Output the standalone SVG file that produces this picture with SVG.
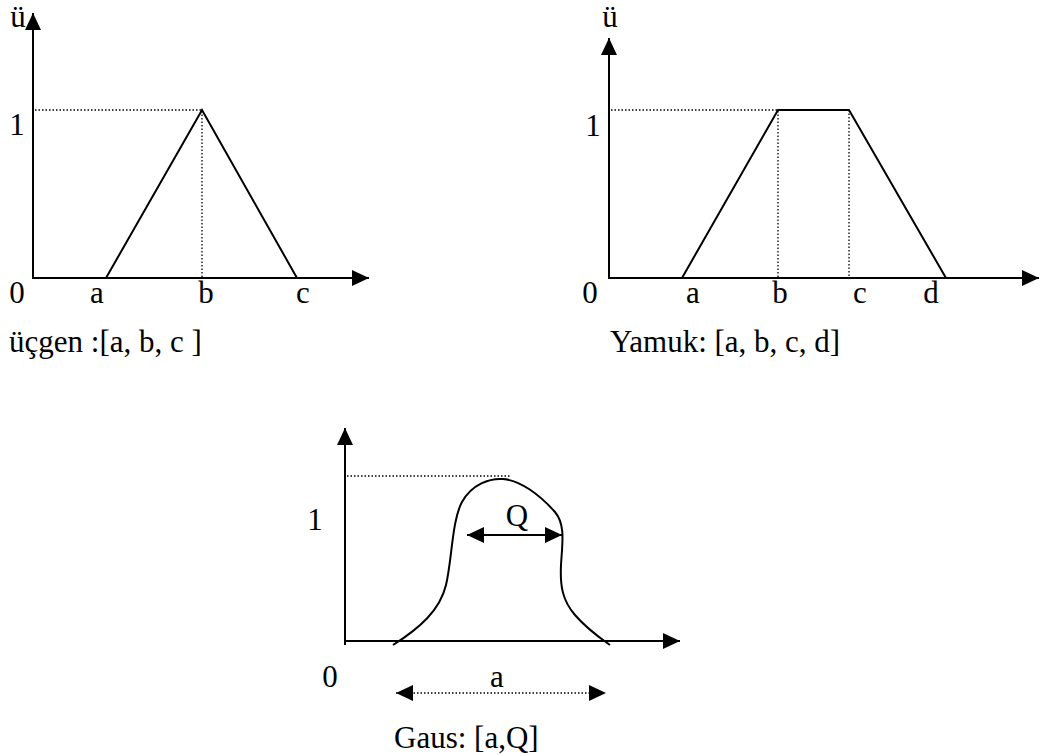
<svg xmlns="http://www.w3.org/2000/svg" width="1040" height="755" viewBox="0 0 1040 755">
<style>
text{font-family:"Liberation Serif","Times New Roman",serif;font-size:31px;fill:#000}
.m{text-anchor:middle}
.ax{stroke:#000;stroke-width:2;fill:none}
.ln{stroke:#000;stroke-width:2;fill:none;stroke-linejoin:miter}
.dt{stroke:#000;stroke-width:1.3;stroke-dasharray:1.5 2;fill:none}
</style>
<defs>
<marker id="ah" markerUnits="userSpaceOnUse" markerWidth="18" markerHeight="17" refX="17" refY="8" orient="auto-start-reverse">
<path d="M0,0 L17,8 L0,16 z" fill="#000"/>
</marker>
</defs>
<rect width="1040" height="755" fill="#fff"/>

<g id="triangle-chart">
<line class="ax" x1="33" y1="279" x2="33" y2="13" marker-end="url(#ah)"/>
<line class="ax" x1="32" y1="278" x2="369" y2="278" marker-end="url(#ah)"/>
<polyline class="dt" points="35,110 202,110 202,277"/>
<polyline class="ln" points="106,278 202,110 297,278"/>
<text class="m" x="18" y="27">ü</text>
<text class="m" x="17" y="135">1</text>
<text class="m" x="17" y="303">0</text>
<text class="m" x="97" y="303">a</text>
<text class="m" x="206" y="303">b</text>
<text class="m" x="303" y="303">c</text>
<text x="9" y="352">üçgen :[a, b, c ]</text>
</g>

<g id="trapezoid-chart">
<line class="ax" x1="609" y1="279" x2="609" y2="38" marker-end="url(#ah)"/>
<line class="ax" x1="608" y1="278" x2="1039" y2="278" marker-end="url(#ah)"/>
<polyline class="dt" points="611,110 778,110 778,277"/>
<line class="dt" x1="849" y1="110" x2="849" y2="277"/>
<polyline class="ln" points="682,278 778,110 849,110 946,278"/>
<text class="m" x="610" y="27">ü</text>
<text class="m" x="593" y="136">1</text>
<text class="m" x="590" y="303">0</text>
<text class="m" x="693" y="303">a</text>
<text class="m" x="780" y="303">b</text>
<text class="m" x="860" y="303">c</text>
<text class="m" x="931" y="303">d</text>
<text x="610" y="352">Yamuk: [a, b, c, d]</text>
</g>

<g id="gauss-chart">
<line class="ax" x1="345" y1="645" x2="345" y2="428" marker-end="url(#ah)"/>
<line class="ax" x1="344" y1="641" x2="680" y2="641" marker-end="url(#ah)"/>
<line class="dt" x1="347" y1="476" x2="510" y2="476"/>
<path class="ln" d="M393,645 C420,628 440,610 446,585 C452,560 452,520 462,502 C472,484 490,478 503,479 C520,480 540,495 555,512 C566,525 562,545 561,565 C560,585 562,600 575,615 C588,630 600,638 610,645"/>
<line class="ax" x1="467" y1="535" x2="562" y2="535" marker-start="url(#ah)" marker-end="url(#ah)"/>
<line class="dt" x1="396" y1="693" x2="606" y2="693" marker-start="url(#ah)" marker-end="url(#ah)"/>
<text class="m" x="517" y="526">Q</text>
<text class="m" x="315" y="530">1</text>
<text class="m" x="330" y="687">0</text>
<text class="m" x="497" y="687">a</text>
<text x="394" y="748">Gaus: [a,Q]</text>
</g>
</svg>
